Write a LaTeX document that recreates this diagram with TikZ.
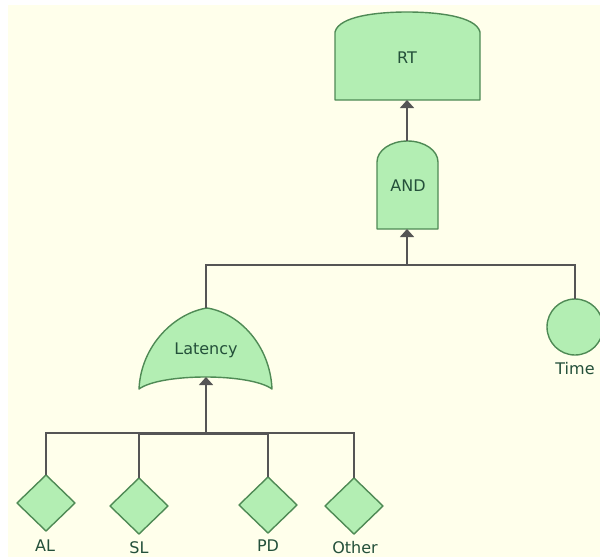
\documentclass[tikz,border=0pt]{standalone}
\usepackage{fontspec}
\setmainfont{DejaVu Sans}
\usetikzlibrary{arrows.meta}
\definecolor{paper}{HTML}{FFFFEB}
\definecolor{gatefill}{HTML}{B3EEB3}
\definecolor{gateedge}{HTML}{4F8A55}
\definecolor{wire}{HTML}{555555}
\definecolor{ink}{HTML}{24503A}
\tikzset{
  gate/.style={draw=gateedge, fill=gatefill, line width=1.4pt, line join=round},
  wirestyle/.style={draw=wire, line width=1.5pt},
  feed/.style={wirestyle, -{Triangle[width=14pt,length=8pt]}},
  gatetext/.style={text=ink, font=\fontsize{16}{19}\selectfont, inner sep=0pt},
  leaftext/.style={text=ink, font=\fontsize{16}{19}\selectfont, inner sep=0pt},
}
\begin{document}
\begin{tikzpicture}[x=1pt,y=-1pt]
% canvas
\fill[white] (0,0) rectangle (600,557);
\fill[paper] (8,5) rectangle (600,557);
\useasboundingbox (0,0) rectangle (600,557);

% top event RT
\draw[gate] (335,100) -- (335,32) .. controls (339,16) and (378,12) .. (407,12)
  .. controls (436,12) and (476,16) .. (480,32) -- (480,100) -- cycle;
\node[gatetext] (rt) at (407,58) {RT};
\coordinate (rt-in) at (407,100);

% AND gate
\draw[gate] (377,229) -- (377,162) arc[start angle=180,end angle=360,x radius=30.5,y radius=21]
  -- (438,229) -- cycle;
\node[gatetext] (and) at (408,186) {AND};
\coordinate (and-out) at (407,141);
\coordinate (and-in) at (407,229);

% OR gate Latency
\draw[gate] (139,389) .. controls (141,345) and (175,313) .. (207,308)
  .. controls (239,313) and (270,345) .. (272,389)
  .. controls (250,373) and (161,373) .. cycle;
\node[gatetext] (lat) at (206,350) {Latency};
\coordinate (lat-out) at (206,308);
\coordinate (lat-in) at (206,377);

% basic event Time
\draw[gate] (575,327) circle[radius=28];
\coordinate (time) at (575,327);
\coordinate (time-top) at (575,299);
\node[leaftext] (time-lbl) at (575,369) {Time};

% undeveloped events
\foreach \n/\x/\y in {al/46/503, sl/139/506, pd/268/505, ot/354/506}{
  \draw[gate] (\x,\y-28) -- (\x+29,\y) -- (\x,\y+28) -- (\x-29,\y) -- cycle;
  \coordinate (\n-top) at (\x,\y-28);
}
\node[leaftext] (al-lbl) at (45,546) {AL};
\node[leaftext] (sl-lbl) at (139,548) {SL};
\node[leaftext] (pd-lbl) at (268,546) {PD};
\node[leaftext] (ot-lbl) at (355,548) {Other};

% wiring
\coordinate (busA) at (407,265);
\coordinate (busL) at (206,433);
\draw[feed] (and-out) -- (rt-in);
\draw[feed] (busA) -- (and-in);
\draw[wirestyle] (lat-out) |- (busA);
\draw[wirestyle] (time-top) |- (busA);
\draw[feed] (busL) -- (lat-in);
\draw[wirestyle] (al-top) |- (busL);
\draw[wirestyle] (ot-top) |- (busL);
\draw[wirestyle] (sl-top) |- (busL);
\draw[wirestyle] (pd-top) |- (busL);
\draw[wirestyle] ([yshift=-1.5pt]sl-top |- busL) -- ([yshift=-1.5pt]pd-top |- busL);
\end{tikzpicture}
\end{document}
